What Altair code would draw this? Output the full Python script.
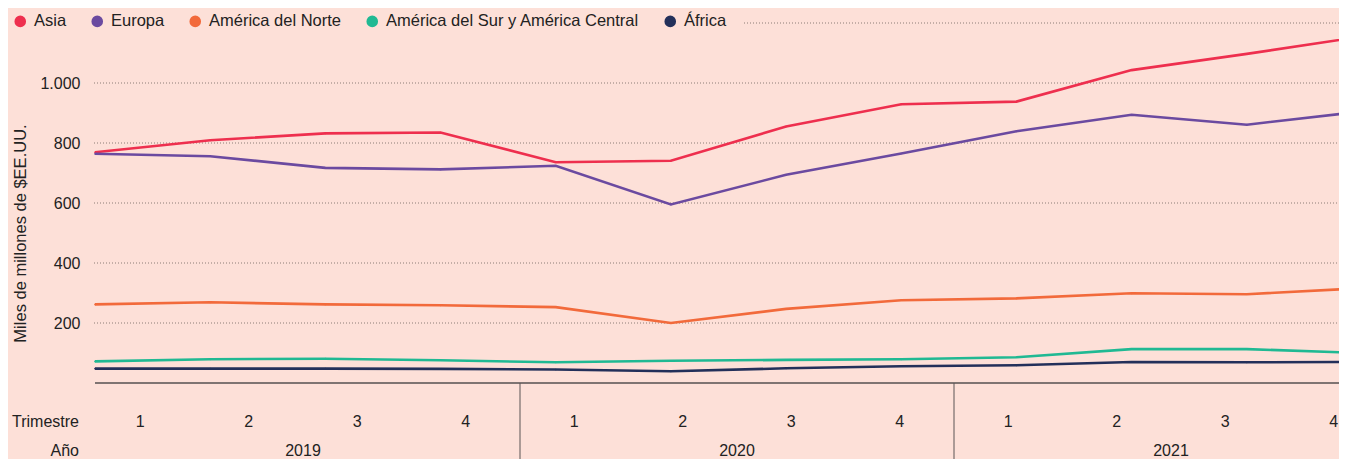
import altair as alt
import pandas as pd

# ---- data ----
regions = ["Asia", "Europa", "América del Norte", "América del Sur y América Central", "África"]
colors = ["#EE2F4E", "#6B4AA0", "#F26A3B", "#20B993", "#23305A"]
quarter_idx = list(range(12))
asia = [769, 809, 832, 835, 736, 741, 855, 929, 938, 1043, 1097, 1155]
europa = [764, 756, 717, 712, 724, 595, 694, 765, 839, 894, 861, 905]
norte = [262, 269, 262, 259, 253, 200, 247, 276, 282, 299, 296, 316]
sur = [72, 79, 81, 76, 69, 74, 77, 79, 86, 113, 113, 100]
africa = [48, 48, 48, 47, 45, 39, 49, 56, 59, 70, 69, 70]
quarter_labels = ["1", "2", "3", "4"] * 3
years = ["2019", "2020", "2021"]
y_ticks = [200, 400, 600, 800, 1000]

BG = "#FDE0D8"
TXT = "#222222"
FONT = "Liberation Sans"

series = [asia, europa, norte, sur, africa]
rows = []
for name, vals in zip(regions, series):
    for i, v in zip(quarter_idx, vals):
        rows.append({"region": name, "i": i, "v": v})
df = pd.DataFrame(rows)

W, H = 1253, 360
QL = 115.18   # px per quarter for the lines
QB = 108.5    # px per quarter for the label bands
line_x = alt.Scale(domain=[-9 / QL, (W - 9) / QL], nice=False, zero=False)
lab_x = alt.Scale(domain=[0, W / QB], nice=False, zero=False)
y_scale = alt.Scale(domain=[0, 1200], nice=False)
color_scale = alt.Scale(domain=regions, range=colors)

y_axis = alt.Axis(
    values=y_ticks, labelExpr="replace(format(datum.value, ','), ',', '.')",
    domain=False, ticks=False, tickSize=0, grid=False, labelPadding=6,
    labelFontSize=16, labelColor=TXT, labelFont=FONT,
    title="Miles de millones de $EE.UU.", titleFont=FONT, titleFontSize=16.5,
    titleFontWeight="normal", titleColor=TXT, titleX=-61, titleY=210,
    titleBaseline="alphabetic", titleAngle=270)

lines = alt.Chart(df).mark_line(strokeWidth=2.6, clip=True).encode(
    x=alt.X("i:Q", scale=line_x, axis=None),
    y=alt.Y("v:Q", scale=y_scale, axis=y_axis),
    color=alt.Color("region:N", scale=color_scale, sort=regions, legend=None),
)

# tiny points hidden under the lines; they carry the filled-circle legend
pts = alt.Chart(df).mark_circle(size=3, opacity=1, clip=True).encode(
    x=alt.X("i:Q", scale=line_x, axis=None),
    y=alt.Y("v:Q", scale=y_scale),
    color=alt.Color("region:N", scale=color_scale, sort=regions,
                    legend=alt.Legend(title=None, orient="none", direction="horizontal",
                                      legendX=-74, legendY=-10, symbolType="circle",
                                      symbolSize=135, symbolStrokeWidth=0, symbolOpacity=1,
                                      labelFontSize=16.5, labelFont=FONT, labelColor=TXT,
                                      labelLimit=0, labelOffset=5.5, columnPadding=22,
                                      columns=5)),
)

grid_df = pd.DataFrame({"v": y_ticks})
grid = alt.Chart(grid_df).mark_rule(color="#8C7C77", strokeDash=[1, 2], strokeWidth=1).encode(
    x=alt.value(8), x2=alt.value(W), y=alt.Y("v:Q", scale=y_scale))
grid_top = alt.Chart(pd.DataFrame({"v": [1200]})).mark_rule(
    color="#8C7C77", strokeDash=[1, 2], strokeWidth=1).encode(
    x=alt.value(658), x2=alt.value(W), y=alt.Y("v:Q", scale=y_scale))

baseline = alt.Chart(pd.DataFrame({"v": [0]})).mark_rule(color="#555050", strokeWidth=1.6).encode(
    x=alt.value(9), x2=alt.value(W), y=alt.Y("v:Q", scale=y_scale))

ticks = alt.Chart(pd.DataFrame({"i": quarter_idx})).mark_rule(
    color="#555050", strokeWidth=1, clip=True).encode(
    x=alt.X("i:Q", scale=line_x, axis=None), y=alt.value(H), y2=alt.value(H + 3))

q_df = pd.DataFrame({"lab": quarter_labels, "p": [k + 0.5 for k in range(12)]})
q_text = alt.Chart(q_df).mark_text(fontSize=16, font=FONT, color=TXT, baseline="middle").encode(
    x=alt.X("p:Q", scale=lab_x, axis=None), y=alt.value(399), text="lab:N")

y_df = pd.DataFrame({"lab": years, "p": [4 * k + 2 for k in range(3)]})
y_text = alt.Chart(y_df).mark_text(fontSize=16, font=FONT, color=TXT, baseline="middle").encode(
    x=alt.X("p:Q", scale=lab_x, axis=None), y=alt.value(428), text="lab:N")

sep_df = pd.DataFrame({"p": [4, 8]})
seps = alt.Chart(sep_df).mark_rule(color="#5A5555", strokeWidth=1).encode(
    x=alt.X("p:Q", scale=lab_x, axis=None), y=alt.value(H), y2=alt.value(H + 80))

row_titles = alt.Chart(pd.DataFrame({"t": ["Trimestre", "Año"], "yy": [399, 428]})).mark_text(
    fontSize=16, font=FONT, color=TXT, align="right", baseline="middle").encode(
    x=alt.value(-7), y=alt.Y("yy:Q", scale=None), text="t:N")

chart = alt.layer(grid, grid_top, baseline, ticks, seps, q_text, y_text, row_titles, pts, lines).resolve_scale(
    x="independent"
).properties(
    width=W, height=H,
    autosize=alt.AutoSizeParams(type="none"),
    padding={"left": 78, "top": 15, "right": 0, "bottom": 76},
    background=BG,
).configure_view(stroke=None)

chart.save("out.html", embed_options={"renderer": "svg", "actions": False})
